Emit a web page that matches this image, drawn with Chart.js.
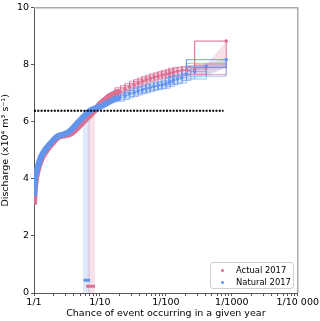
<!DOCTYPE html>
<html>
<head>
<meta charset="utf-8">
<script src="https://cdn.jsdelivr.net/npm/chart.js@4"></script>
<style>
  body { margin: 0; background: #fff; }
  #wrap { position: relative; width: 320px; height: 321px; }
  #legend {
    position: absolute; left: 210px; top: 262px; width: 82px; height: 25px;
    border: 1px solid #d0d0d0; border-radius: 3px; background: rgba(255,255,255,0.85);
    font-family: 'DejaVu Sans', sans-serif; font-size: 8.4px; color: #000;
  }
  .item { position: absolute; left: 0; height: 12px; line-height: 12px; }
  .dot { position: absolute; left: 10px; top: 4.5px; width: 3px; height: 3px; border-radius: 50%; }
  .lbl { position: absolute; left: 25px; white-space: nowrap; }
</style>
</head>
<body>
<div id="wrap">
  <canvas id="myChart" width="320" height="321"></canvas>
  <div id="legend">
    <div class="item" style="top:1px"><span class="dot" style="background:#DB7093"></span><span class="lbl">Actual 2017</span></div>
    <div class="item" style="top:13px"><span class="dot" style="background:#6495ED"></span><span class="lbl">Natural 2017</span></div>
  </div>
</div>
<script>
const xTickLabels = ['1/1', '1/10', '1/100', '1/1000', '1/10 000'];

// return period (years) for the dense part of the curves
const mainRP = [1, 1.02, 1.05, 1.1, 1.17, 1.25, 1.35, 1.5, 1.7, 1.9, 2.1, 2.4, 2.8, 3.3, 3.8, 4.4, 5.2, 6, 7, 8, 9, 10, 12, 14, 17, 20];
const actualMainQ = [3.1, 3.55, 3.85, 4.15, 4.4, 4.6, 4.78, 4.95, 5.12, 5.25, 5.37, 5.48, 5.52, 5.55, 5.62, 5.75, 5.92, 6.08, 6.22, 6.35, 6.5, 6.63, 6.78, 6.9, 7.0, 7.08];
const naturalMainQ = [3.4, 3.7, 4.0, 4.3, 4.52, 4.72, 4.88, 5.05, 5.2, 5.32, 5.43, 5.52, 5.56, 5.63, 5.76, 5.92, 6.1, 6.24, 6.38, 6.45, 6.5, 6.53, 6.62, 6.7, 6.8, 6.86];

// tail points with error bars
const tailRP = [20, 24, 28, 33, 38, 44, 50, 58, 66, 76, 88, 100, 115, 130, 150, 175, 205, 273, 410, 823];
const actualTailQ   = [7.08, 7.15, 7.22, 7.3, 7.36, 7.42, 7.47, 7.52, 7.56, 7.6, 7.64, 7.67, 7.7, 7.74, 7.77, 7.8, 7.82, 7.84, 7.9, 8.83];
const actualTailQLo = [6.96, 7.03, 7.1, 7.18, 7.24, 7.3, 7.35, 7.4, 7.44, 7.48, 7.52, 7.54, 7.56, 7.58, 7.6, 7.62, 7.64, 7.66, 7.66, 7.9];
const actualTailQHi = [7.2, 7.27, 7.34, 7.42, 7.48, 7.54, 7.59, 7.64, 7.68, 7.72, 7.76, 7.8, 7.84, 7.88, 7.9, 7.92, 7.94, 7.96, 8.0, 8.83];
const actualTailRPLo = [17, 20.5, 24, 28.2, 32.5, 37.6, 42.7, 49.6, 56.4, 65, 75.2, 85.5, 98.3, 111, 128, 150, 175, 205, 273, 273];
const actualTailRPHi = [23.4, 28.1, 32.8, 38.6, 44.5, 51.5, 58.5, 67.9, 77.2, 88.9, 103, 117, 135, 152, 176, 205, 240, 410, 823, 823];

const naturalTailQ   = [6.86, 6.92, 6.98, 7.03, 7.08, 7.13, 7.16, 7.2, 7.24, 7.27, 7.3, 7.33, 7.4, 7.46, 7.5, 7.55, 7.67, 7.76, 7.95, 8.18];
const naturalTailQLo = [6.72, 6.78, 6.84, 6.89, 6.94, 6.99, 7.02, 7.06, 7.1, 7.13, 7.16, 7.18, 7.24, 7.3, 7.33, 7.36, 7.45, 7.5, 7.6, 7.9];
const naturalTailQHi = [6.98, 7.04, 7.1, 7.15, 7.2, 7.25, 7.28, 7.32, 7.36, 7.39, 7.42, 7.46, 7.54, 7.6, 7.64, 7.68, 7.8, 7.9, 8.05, 8.18];
const naturalTailRPLo = [17, 20.5, 24, 28.2, 32.5, 37.6, 42.7, 49.6, 56.4, 65, 75.2, 85.5, 98.3, 111, 128, 150, 175, 205, 205, 205];
const naturalTailRPHi = [23.4, 28.1, 32.8, 38.6, 44.5, 51.5, 58.5, 67.9, 77.2, 88.9, 103, 117, 135, 152, 176, 205, 240, 410, 823, 823];

// 2017 event
const thresholdQ = 6.39;
const thresholdRP = [1, 750];
const actualEventRP = [6.47, 8.4];
const naturalEventRP = [5.5, 7.1];
const actualBarRP = [6.18, 8.4];
const naturalBarRP = [5.63, 7.1];
const actualBarQ = 0.24;
const naturalBarQ = 0.45;

const PINK = '#DB7093', BLUE = '#6495ED';
const pinkA = a => `rgba(219,112,147,${a})`;
const blueA = a => `rgba(100,149,237,${a})`;

const pts = (xs, ys) => xs.map((x, i) => ({ x: x, y: ys[i] }));

function boxes(rp, q, rpLo, rpHi, qLo, qHi) {
  const d = [];
  rp.forEach((x, i) => {
    d.push({ x: rpLo[i], y: qLo[i] }, { x: rpHi[i], y: qLo[i] }, { x: rpHi[i], y: qHi[i] },
           { x: rpLo[i], y: qHi[i] }, { x: rpLo[i], y: qLo[i] }, { x: rpLo[i], y: null });
    d.push({ x: rpLo[i], y: q[i] }, { x: rpHi[i], y: q[i] }, { x: rpHi[i], y: null });
    d.push({ x: x, y: qLo[i] }, { x: x, y: qHi[i] }, { x: x, y: null });
  });
  return d;
}

const datasets = [
  // event return period bands
  { data: naturalEventRP.map(x => ({ x: x, y: thresholdQ })), borderWidth: 0, pointRadius: 0, fill: 'origin', backgroundColor: blueA(0.2), order: 20 },
  { data: actualEventRP.map(x => ({ x: x, y: thresholdQ })), borderWidth: 0, pointRadius: 0, fill: 'origin', backgroundColor: pinkA(0.2), order: 19 },
  // tail confidence bands
  { data: pts(tailRP, actualTailQHi), borderWidth: 0, pointRadius: 0, fill: false, order: 18 },
  { data: pts(tailRP, actualTailQLo), borderWidth: 0, pointRadius: 0, fill: '-1', backgroundColor: pinkA(0.2), order: 17 },
  { data: pts(tailRP, naturalTailQHi), borderWidth: 0, pointRadius: 0, fill: false, order: 16 },
  { data: pts(tailRP, naturalTailQLo), borderWidth: 0, pointRadius: 0, fill: '-1', backgroundColor: blueA(0.2), order: 15 },
  // error boxes
  { data: boxes(tailRP, actualTailQ, actualTailRPLo, actualTailRPHi, actualTailQLo, actualTailQHi), borderColor: pinkA(0.6), borderWidth: 1, pointRadius: 0, spanGaps: false, fill: false, order: 14 },
  { data: boxes(tailRP, naturalTailQ, naturalTailRPLo, naturalTailRPHi, naturalTailQLo, naturalTailQHi), borderColor: blueA(0.6), borderWidth: 1, pointRadius: 0, spanGaps: false, fill: false, order: 13 },
  // dense curves
  { data: pts(mainRP, actualMainQ), borderColor: PINK, borderWidth: 6, pointRadius: 0, fill: false, tension: 0.3, order: 12 },
  { data: pts(mainRP, naturalMainQ), borderColor: BLUE, borderWidth: 6, pointRadius: 0, fill: false, tension: 0.3, order: 11 },
  // tail points
  { data: pts(tailRP, actualTailQ), showLine: false, pointRadius: 1.8, pointBackgroundColor: PINK, pointBorderWidth: 0, order: 10 },
  { data: pts(tailRP, naturalTailQ), showLine: false, pointRadius: 1.8, pointBackgroundColor: BLUE, pointBorderWidth: 0, order: 9 },
  // threshold line
  { data: thresholdRP.map(x => ({ x: x, y: thresholdQ })), borderColor: '#000', borderWidth: 2, borderDash: [2, 1.3], pointRadius: 0, fill: false, order: 8 },
  // event bars
  { data: naturalBarRP.map(x => ({ x: x, y: naturalBarQ })), borderColor: BLUE, borderWidth: 3, pointRadius: 0, fill: false, order: 7 },
  { data: actualBarRP.map(x => ({ x: x, y: actualBarQ })), borderColor: PINK, borderWidth: 3, pointRadius: 0, fill: false, order: 6 }
];

const frame = {
  id: 'frame',
  afterDraw(chart) {
    const { ctx, chartArea: a } = chart;
    ctx.save();
    ctx.strokeStyle = '#aaa';
    ctx.lineWidth = 1.5;
    ctx.beginPath();
    ctx.moveTo(a.left, a.top);
    ctx.lineTo(a.right, a.top);
    ctx.lineTo(a.right, a.bottom);
    ctx.stroke();
    ctx.restore();
  }
};

const font = { family: 'DejaVu Sans', size: 9.5 };

const myChart = new Chart(document.getElementById('myChart'), {
  type: 'line',
  data: { datasets: datasets },
  options: {
    responsive: false,
    animation: false,
    devicePixelRatio: 1,
    layout: { padding: { top: 6, right: 22, left: 0, bottom: 0 } },
    plugins: { legend: { display: false }, tooltip: { enabled: false } },
    scales: {
      x: {
        type: 'logarithmic',
        min: 1,
        max: 10000,
        afterBuildTicks(s) {
          const t = [];
          for (let p = 0; p < 4; p++) for (let m = 1; m < 10; m++) t.push({ value: m * Math.pow(10, p) });
          t.push({ value: 10000 });
          s.ticks = t;
        },
        afterFit(s) { s.height = 28; },
        grid: { drawOnChartArea: false, tickLength: 3, color: '#555' },
        border: { color: '#555', width: 1 },
        ticks: {
          autoSkip: false, maxRotation: 0, minRotation: 0, padding: 1, color: '#000', font: font,
          callback(v) {
            const p = Math.log10(v);
            return Math.abs(p - Math.round(p)) < 1e-9 ? xTickLabels[Math.round(p)] : '';
          }
        },
        title: { display: true, text: 'Chance of event occurring in a given year', color: '#000', font: font, padding: { top: 0, bottom: 2 } }
      },
      y: {
        min: 0,
        max: 10,
        afterFit(s) { s.width = 34; },
        grid: { drawOnChartArea: false, tickLength: 3, color: '#555' },
        border: { color: '#555', width: 1 },
        ticks: { stepSize: 2, padding: 2, color: '#000', font: font },
        title: { display: true, text: 'Discharge (x10\u2074 m\u00b3 s\u207b\u00b9)', color: '#000', font: font, padding: { top: 0, bottom: 2 } }
      }
    }
  },
  plugins: [frame]
});
</script>
</body>
</html>
